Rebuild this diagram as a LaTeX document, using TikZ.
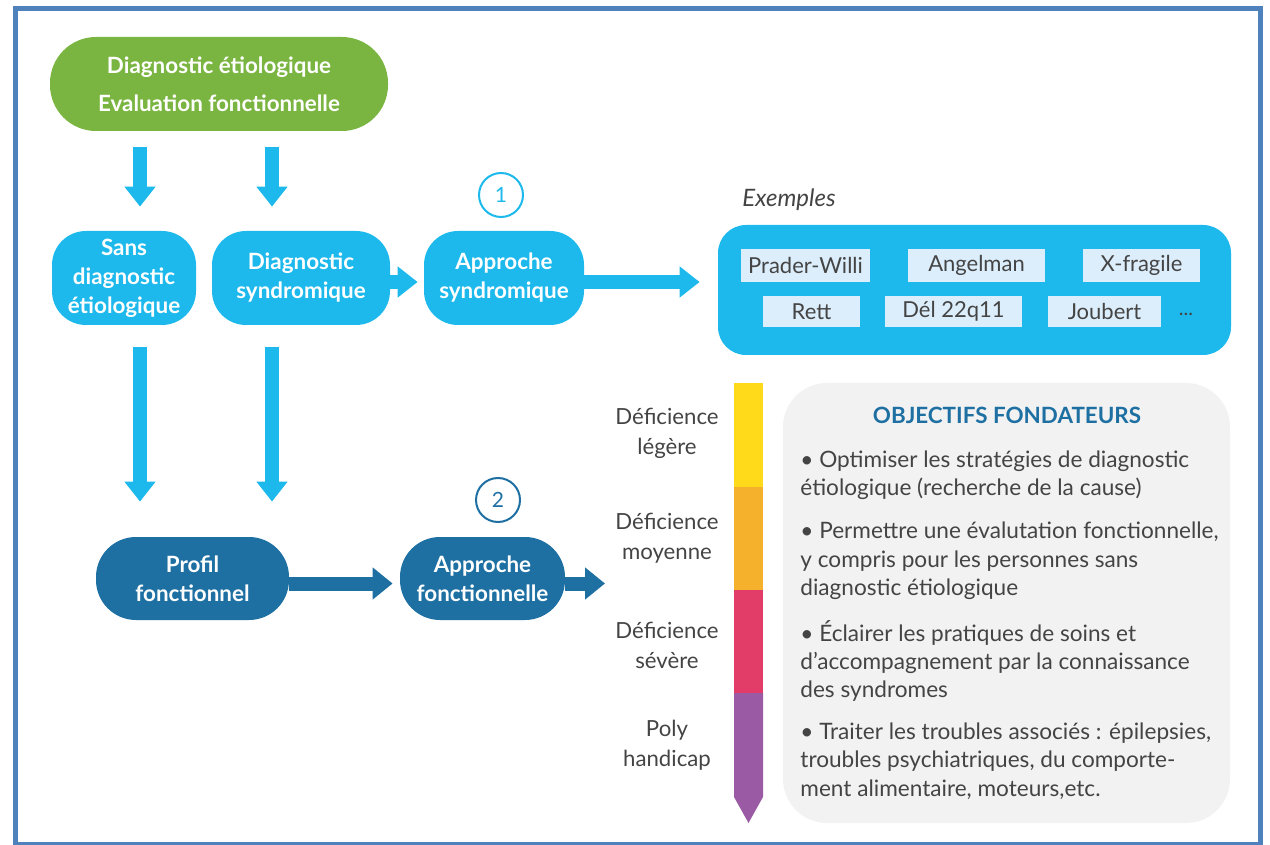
\documentclass[tikz,border=0pt]{standalone}
\usepackage{fontspec}
\setmainfont{Lato}
\usetikzlibrary{arrows.meta}
\definecolor{cframe}{HTML}{4F81BD}
\definecolor{cgreen}{HTML}{7AB541}
\definecolor{ccyan}{HTML}{1DB9EC}
\definecolor{cdark}{HTML}{1E70A3}
\definecolor{ctag}{HTML}{DCEEFB}
\definecolor{ctxt}{HTML}{444444}
\definecolor{cyel}{HTML}{FFDA1A}
\definecolor{corange}{HTML}{F5B02C}
\definecolor{cpink}{HTML}{E23D69}
\definecolor{cpurple}{HTML}{9A5BA4}
\definecolor{cpanel}{HTML}{F2F2F2}
\tikzset{
  boxtext/.style={font=\bfseries\fontsize{11.2}{14.5}\selectfont, text=white, align=center, inner sep=0pt},
  gbox/.style={boxtext, fill=cgreen, rounded corners=23pt, font=\bfseries\fontsize{11.2}{19}\selectfont},
  cbox/.style={boxtext, fill=ccyan, rounded corners=17pt},
  dbox/.style={boxtext, fill=cdark, rounded corners=20pt},
  exbox/.style={fill=ccyan, rounded corners=14pt, inner sep=0pt},
  tagbox/.style={fill=ctag, text=ctxt, font=\fontsize{11}{12}\selectfont, inner sep=0pt},
  numc/.style={circle, draw=#1, text=#1, line width=1pt, minimum size=22pt, inner sep=0pt, font=\fontsize{10.5}{12}\selectfont},
  fatc/.style={draw=ccyan, line width=7pt, -{Triangle[width=15pt,length=10pt]}},
  fatd/.style={draw=cdark, line width=7pt, -{Triangle[width=15.5pt,length=10pt]}},
  lvl/.style={text=ctxt, align=center, font=\fontsize{11.1}{15}\selectfont, inner sep=0pt},
  bul/.style={text=ctxt, align=left, anchor=west, font=\fontsize{11.3}{14.2}\selectfont, inner sep=0pt},
}
\begin{document}
\begin{tikzpicture}[x=0.5pt,y=-0.5pt]
\useasboundingbox (0,0) rectangle (1270,845);
\draw[cframe, line width=2.5pt] (15.5,8.5) rectangle (1260.5,844);

% main nodes
\node[gbox, minimum width=169pt, minimum height=47pt] (top) at (219,84) {Diagnostic étiologique\\Evaluation fonctionnelle};
\node[cbox, minimum width=72pt, minimum height=47pt] (sans) at (124,278) {Sans\\diagnostic\\étiologique};
\node[cbox, minimum width=89pt, minimum height=47pt] (synd) at (301,278) {Diagnostic\\syndromique};
\node[cbox, minimum width=80pt, minimum height=47pt] (appS) at (504,278) {Approche\\syndromique};
\node[dbox, minimum width=96.5pt, minimum height=41.5pt] (profil) at (192.5,578.5) {Profil\\fonctionnel};
\node[dbox, minimum width=82.5pt, minimum height=41.5pt] (appF) at (482.5,578.5) {Approche\\fonctionnelle};
\node[numc=ccyan] (n1) at (501,195) {1};
\node[numc=cdark] (n2) at (498,500) {2};

% examples
\node[text=ctxt, font=\itshape\fontsize{12}{14}\selectfont] (ex) at (789,200) {Exemples};
\node[exbox, minimum width=256.5pt, minimum height=65pt] (exb) at (974.5,290) {};
\node[tagbox, minimum width=64.5pt, minimum height=16.5pt] (t1) at (805.5,265.5) {Prader-Willi};
\node[tagbox, minimum width=68.5pt, minimum height=16.5pt] (t2) at (976.5,265.5) {Angelman};
\node[tagbox, minimum width=58.5pt, minimum height=16.5pt] (t3) at (1141.5,265.5) {X-fragile};
\node[tagbox, minimum width=48.5pt, minimum height=15.5pt] (t4) at (811.5,311.5) {Rett};
\node[tagbox, minimum width=68.5pt, minimum height=15.5pt] (t5) at (953.5,311.5) {Dél 22q11};
\node[tagbox, minimum width=56.5pt, minimum height=15.5pt] (t6) at (1104.5,311.5) {Joubert};
\node[text=ctxt, font=\fontsize{10}{12}\selectfont] (t7) at (1186,314) {...};

% level bar
\fill[cyel] (734,383) rectangle (763,487);
\fill[corange] (734,487) rectangle (763,590);
\fill[cpink] (734,590) rectangle (763,693);
\fill[cpurple] (734,693) -- (763,693) -- (763,797) -- (748.5,823) -- (734,797) -- cycle;
\node[lvl] (l1) at (667,433) {Déficience\\légère};
\node[lvl] (l2) at (667,538) {Déficience\\moyenne};
\node[lvl] (l3) at (667,645) {Déficience\\sévère};
\node[lvl] (l4) at (667,745) {Poly\\handicap};

% objectives panel
\node[fill=cpanel, rounded corners=22pt, inner sep=0pt, minimum width=223.5pt, minimum height=220pt] (obj) at (1006.5,603) {};
\node[text=cdark, font=\bfseries\fontsize{11.2}{13}\selectfont] (objt) at (1007,415) {OBJECTIFS FONDATEURS};
\node[bul] (b1) at (800,475) {• Optimiser les stratégies de diagnostic\\étiologique (recherche de la cause)};
\node[bul] (b2) at (800,561) {• Permettre une évalutation fonctionnelle,\\y compris pour les personnes sans\\diagnostic étiologique};
\node[bul] (b3) at (800,661) {• Éclairer les pratiques de soins et\\d'accompagnement par la connaissance\\des syndromes};
\node[bul] (b4) at (800,761) {• Traiter les troubles associés : épilepsies,\\troubles psychiatriques, du comporte-\\ment alimentaire, moteurs,etc.};

% connectors
\coordinate (xa) at (140,0);
\coordinate (xb) at (272,0);
\draw[fatc, shorten <=8pt, shorten >=12pt] (top.south -| xa) -- (sans.north -| xa);
\draw[fatc, shorten <=8pt, shorten >=12pt] (top.south -| xb) -- (synd.north -| xb);
\draw[fatc, shorten <=11pt, shorten >=17.5pt] (sans.south -| xa) -- (profil.north -| xa);
\draw[fatc, shorten <=11pt, shorten >=17.5pt] (synd.south -| xb) -- (profil.north -| xb);
\draw[fatc, shorten >=3pt] ([yshift=-2pt]synd.east) -- ([yshift=-2pt]appS.west);
\draw[fatc, shorten >=9pt] ([yshift=-2pt]appS.east) -- ([yshift=-2pt]appS.east -| exb.west);
\draw[fatd, shorten >=3.5pt] ([yshift=-2.5pt]profil.east) -- ([yshift=-2.5pt]appF.west);
\draw[fatd, shorten >=5pt] ([yshift=-2.5pt]appF.east) -- ([yshift=-2.5pt]appF.east -| l2.west);
\end{tikzpicture}
\end{document}
